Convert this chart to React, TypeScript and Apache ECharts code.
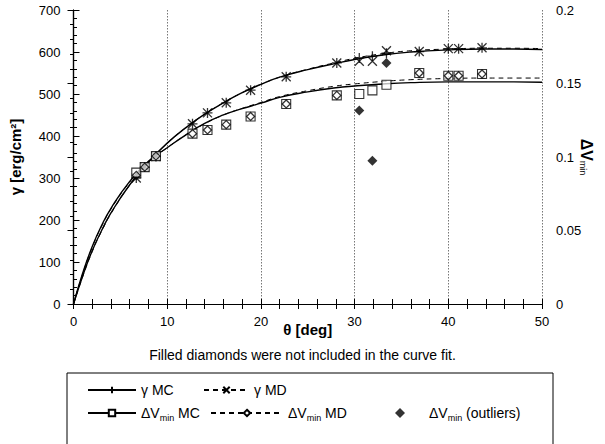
import React, { useEffect, useRef } from 'react';
import * as echarts from 'echarts';

// ---- data ----
const thetaMC = [6.7, 7.6, 8.8, 12.7, 14.3, 16.3, 18.9, 22.7, 28.1, 30.5, 31.9, 33.4, 36.9, 40.0, 41.1, 43.6];
const gammaMC = [300, 326, 351, 429, 455, 479, 509, 541, 574, 586, 590, 597, 601, 608, 608, 610];
const gammaMD = [300, 326, 351, 429, 455, 479, 509, 541, 574, 578, 578, 603, 601, 608, 608, 610];
const dvMC = [0.0894, 0.0931, 0.1006, 0.1159, 0.1184, 0.122, 0.1276, 0.1361, 0.1419, 0.1429, 0.1453, 0.1492, 0.1571, 0.1553, 0.1553, 0.1565];
const thetaMDdv = [6.7, 7.6, 8.8, 12.7, 14.3, 16.3, 18.9, 22.7, 28.1, 36.9, 40.0, 41.1, 43.6];
const dvMD = [0.0875, 0.0931, 0.1006, 0.1159, 0.1184, 0.122, 0.1276, 0.1361, 0.1419, 0.1571, 0.1553, 0.1553, 0.1565];
const thetaOut = [30.5, 31.9, 33.4];
const dvOut = [0.1317, 0.0975, 0.164];

const thetaFit = [0, 1, 2, 3, 4, 6, 8, 10, 12, 14, 16, 18, 20, 22, 25, 28, 30, 33, 36, 40, 44, 47, 50];
const gammaFitMC = [0, 68, 127, 175, 217, 284, 338, 383, 420, 452, 479, 503, 523, 540, 558, 573, 582, 593, 600, 605, 607, 607, 606];
const gammaFitMD = [0, 66, 125, 173, 215, 283, 338, 383, 420, 452, 479, 503, 523, 540, 559, 575, 585, 596, 603, 607, 609, 609, 608];
const dvFitMC = [0, 0.0214, 0.0391, 0.0534, 0.0651, 0.0834, 0.0971, 0.1063, 0.1151, 0.1229, 0.1286, 0.1329, 0.1366, 0.1406, 0.1443, 0.1471, 0.1483, 0.1497, 0.1506, 0.1511, 0.1511, 0.1511, 0.1509];
const dvFitMD = [0, 0.0209, 0.0386, 0.0529, 0.0646, 0.0829, 0.0966, 0.1063, 0.1151, 0.1226, 0.1286, 0.1331, 0.1371, 0.1411, 0.1451, 0.1483, 0.1497, 0.1514, 0.1526, 0.1534, 0.1537, 0.1537, 0.1537];

const xTicks = [0, 50, 10];
const gammaAxis = [0, 700, 100];
const dvAxis = [0, 0.2, 0.05];

const FONT = '"Liberation Sans", Arial, Helvetica, sans-serif';
const PLUS = 'path://M5,0L5,10M0,5L10,5';
const CROSS = 'path://M0,0L10,10M10,0L0,10';

const zip = (xs: number[], ys: number[]) => xs.map((x, i) => [x, ys[i]]);

const legendLabel: Record<string, string> = {
  'γ MC': '{t|γ MC}',
  'γ MD': '{t|γ MD}',
  'ΔV MC': '{t|ΔV}{s|min}{t| MC}',
  'ΔV MD': '{t|ΔV}{s|min}{t| MD}',
  'ΔV (outliers)': '{g|}{t|ΔV}{s|min}{t| (outliers)}',
};

const richLegend = {
  t: { fontSize: 14, lineHeight: 16, color: '#000', fontFamily: FONT },
  s: { fontSize: 9, padding: [10, 0, 0, 0], color: '#000', fontFamily: FONT },
  g: { width: 19 },
};

export default function App() {
  const ref = useRef<HTMLDivElement>(null);
  useEffect(() => {
    if (!ref.current) return;
    const chart = echarts.init(ref.current, undefined, { renderer: 'svg' });

    const legendBase: any = {
      orient: 'horizontal',
      selectedMode: false,
      itemHeight: 8,
      padding: 0,
      symbolKeepAspect: true,
      textStyle: { fontSize: 14, color: '#000', fontFamily: FONT, rich: richLegend },
      formatter: (n: string) => legendLabel[n] || n,
    };

    const axisLineStyle = { color: '#000', width: 1.2 };
    const tickStyle = { color: '#000', width: 1 };

    const option: any = {
      animation: false,
      backgroundColor: '#fff',
      textStyle: { fontFamily: FONT },
      grid: { left: 73.5, right: 63, top: 10, bottom: 140, containLabel: false, outerBoundsMode: 'none' },
      legend: [
        { ...legendBase, data: ['γ MC'], left: 87, top: 383, itemWidth: 48 },
        { ...legendBase, data: ['γ MD'], left: 203, top: 383, itemWidth: 45 },
        { ...legendBase, data: ['ΔV MC'], left: 87, top: 406, itemWidth: 48 },
        { ...legendBase, data: ['ΔV MD'], left: 210, top: 406, itemWidth: 72 },
        { ...legendBase, data: [{ name: 'ΔV (outliers)', icon: 'diamond' }], left: 395, top: 406, itemWidth: 10, itemHeight: 10 },
      ],
      graphic: [
        {
          type: 'text',
          left: 'center',
          top: 348,
          style: { text: 'Filled diamonds were not included in the curve fit.', fontSize: 14, fill: '#000', fontFamily: FONT, x: 12 },
        },
        {
          type: 'rect',
          shape: { x: 67, y: 373, width: 486, height: 90 },
          style: { fill: 'none', stroke: '#000', lineWidth: 1 },
          z: 0,
        },
      ],
      xAxis: [
        {
          type: 'value',
          position: 'bottom',
          min: xTicks[0],
          max: xTicks[1],
          interval: xTicks[2],
          axisLine: { lineStyle: axisLineStyle },
          axisTick: { inside: true, length: 5, lineStyle: tickStyle },
          minorTick: { show: true, splitNumber: 5, length: 5, lineStyle: tickStyle },
          axisLabel: { color: '#000', fontSize: 13, margin: 11, fontFamily: FONT },
          splitLine: { show: true, lineStyle: { type: [1.5, 1.5], color: '#777', width: 1 } },
          name: 'θ [deg]',
          nameLocation: 'middle',
          nameGap: 18,
          nameMoveOverlap: false,
          nameTextStyle: { fontSize: 15, fontWeight: 'bold', color: '#000', fontFamily: FONT },
        },
        {
          type: 'value',
          position: 'top',
          min: xTicks[0],
          max: xTicks[1],
          interval: xTicks[2],
          axisLine: { lineStyle: axisLineStyle },
          axisTick: { inside: true, length: 5, lineStyle: tickStyle },
          minorTick: { show: true, splitNumber: 5, length: 5, lineStyle: tickStyle },
          axisLabel: { show: false },
          splitLine: { show: false },
        },
      ],
      yAxis: [
        {
          type: 'value',
          position: 'left',
          min: gammaAxis[0],
          max: gammaAxis[1],
          interval: gammaAxis[2],
          axisLine: { show: true, lineStyle: axisLineStyle },
          axisTick: { show: true, inside: true, length: 6, lineStyle: tickStyle },
          minorTick: { show: true, splitNumber: 5, length: 3.5, lineStyle: tickStyle },
          axisLabel: { color: '#000', fontSize: 13, margin: 13, fontFamily: FONT },
          splitLine: { show: false },
          name: 'γ [erg/cm²]',
          nameLocation: 'middle',
          nameRotate: 90,
          nameGap: 51,
          nameMoveOverlap: false,
          nameTextStyle: { fontSize: 15, fontWeight: 'bold', color: '#000', fontFamily: FONT },
        },
        {
          type: 'value',
          position: 'right',
          min: dvAxis[0],
          max: dvAxis[1],
          interval: dvAxis[2],
          axisLine: { show: true, lineStyle: axisLineStyle },
          axisTick: { show: true, inside: true, length: 6, lineStyle: tickStyle },
          minorTick: { show: true, splitNumber: 5, length: 3.5, lineStyle: tickStyle },
          axisLabel: { color: '#000', fontSize: 13, margin: 14, fontFamily: FONT, formatter: (v: number) => String(v) },
          splitLine: { show: false },
          name: '{b|ΔV}{s|min}',
          nameLocation: 'middle',
          nameRotate: -90,
          nameGap: 36,
          nameMoveOverlap: false,
          nameTextStyle: {
            color: '#000',
            rich: {
              b: { fontSize: 16, fontWeight: 'bold', lineHeight: 16, color: '#000', fontFamily: FONT },
              s: { fontSize: 9, padding: [8, 0, 0, 0], color: '#000', fontFamily: FONT },
            },
          },
        },
      ],
      series: [
        {
          name: 'γ MC',
          type: 'line',
          smooth: true,
          showSymbol: false,
          symbol: PLUS,
          data: zip(thetaFit, gammaFitMC),
          lineStyle: { color: '#000', width: 1.4, type: 'solid' },
          itemStyle: { color: '#000', borderColor: '#000', borderWidth: 1 },
          z: 3,
        },
        {
          name: 'γ MD',
          type: 'line',
          smooth: true,
          showSymbol: false,
          symbol: CROSS,
          data: zip(thetaFit, gammaFitMD),
          lineStyle: { color: '#000', width: 1, type: [5, 4] },
          itemStyle: { color: '#000', borderColor: '#000', borderWidth: 1 },
          z: 3,
        },
        {
          name: 'ΔV MC',
          type: 'line',
          smooth: true,
          showSymbol: false,
          symbol: 'rect',
          yAxisIndex: 1,
          data: zip(thetaFit, dvFitMC),
          lineStyle: { color: '#000', width: 1.4, type: 'solid' },
          itemStyle: { color: '#fff', borderColor: '#000', borderWidth: 1 },
          z: 3,
        },
        {
          name: 'ΔV MD',
          type: 'line',
          smooth: true,
          showSymbol: false,
          symbol: 'diamond',
          yAxisIndex: 1,
          data: zip(thetaFit, dvFitMD),
          lineStyle: { color: '#000', width: 1, type: [5, 4] },
          itemStyle: { color: '#fff', borderColor: '#000', borderWidth: 1 },
          z: 3,
        },
        {
          name: 'ΔV (outliers)',
          type: 'scatter',
          symbol: 'diamond',
          symbolSize: 10,
          yAxisIndex: 1,
          data: zip(thetaOut, dvOut),
          itemStyle: { color: '#000', borderColor: '#000', borderWidth: 0 },
          z: 6,
        },
        {
          name: 'γ MC points',
          type: 'scatter',
          symbol: PLUS,
          symbolSize: 10,
          data: zip(thetaMC, gammaMC),
          itemStyle: { color: 'rgba(0,0,0,0)', borderColor: '#000', borderWidth: 1.3 },
          z: 5,
        },
        {
          name: 'γ MD points',
          type: 'scatter',
          symbol: CROSS,
          symbolSize: 9,
          data: zip(thetaMC, gammaMD),
          itemStyle: { color: 'rgba(0,0,0,0)', borderColor: '#000', borderWidth: 1.3 },
          z: 5,
        },
        {
          name: 'ΔV MC points',
          type: 'scatter',
          symbol: 'rect',
          symbolSize: 9,
          yAxisIndex: 1,
          data: zip(thetaMC, dvMC),
          itemStyle: { color: 'rgba(255,255,255,0.9)', borderColor: '#000', borderWidth: 1.1 },
          z: 5,
        },
        {
          name: 'ΔV MD points',
          type: 'scatter',
          symbol: 'diamond',
          symbolSize: 8,
          yAxisIndex: 1,
          data: zip(thetaMDdv, dvMD),
          itemStyle: { color: 'rgba(0,0,0,0)', borderColor: '#000', borderWidth: 1.3 },
          z: 6,
        },
      ],
    };

    chart.setOption(option);
    return () => chart.dispose();
  }, []);

  return (
    <div
      ref={ref}
      style={{ position: 'absolute', left: 0, top: 0, width: 605, height: 444, background: '#fff' }}
    />
  );
}
